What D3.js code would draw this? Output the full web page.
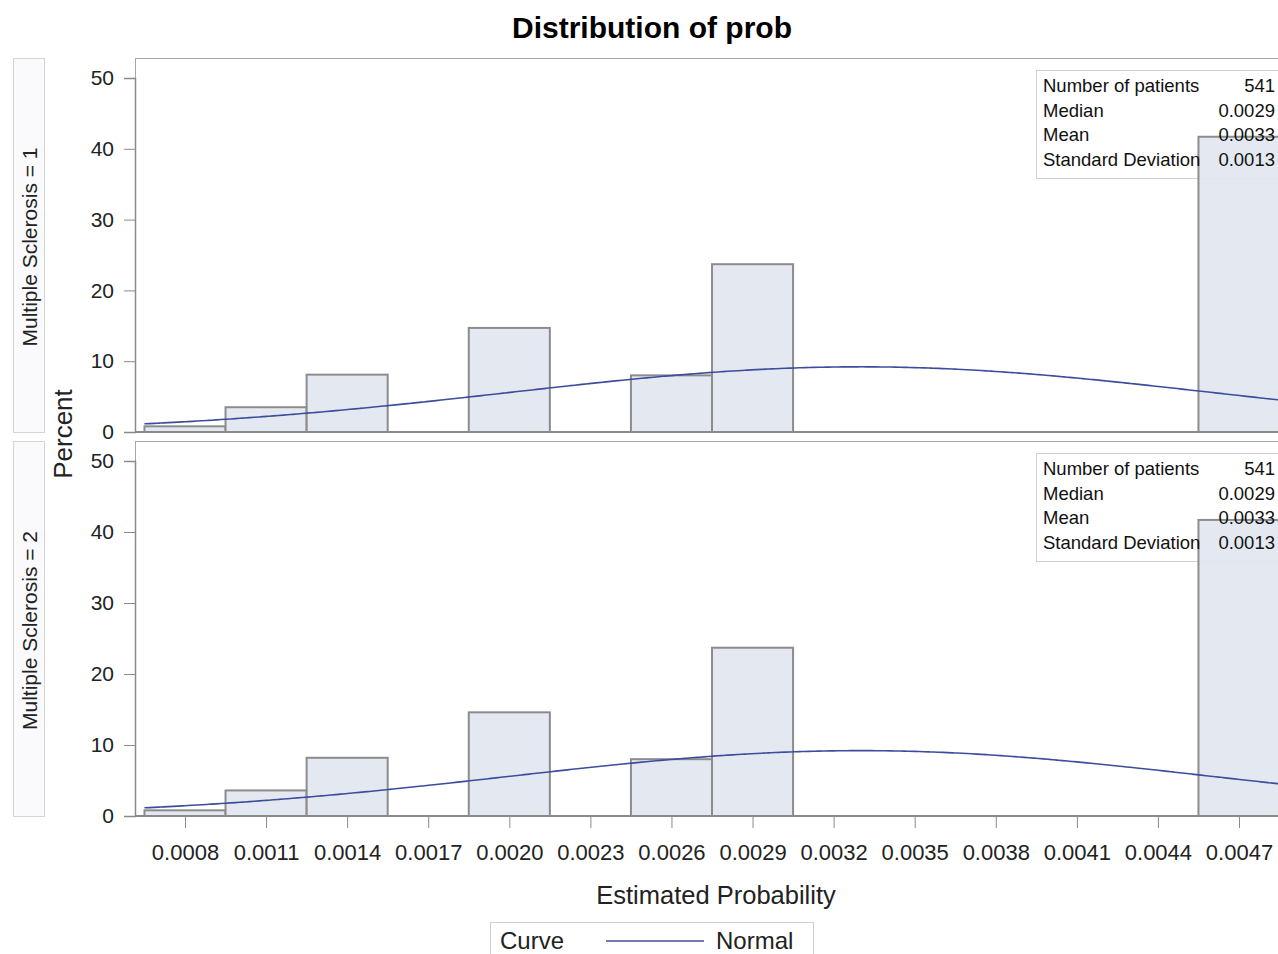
<!DOCTYPE html>
<html>
<head>
<meta charset="utf-8">
<script src="https://cdn.jsdelivr.net/npm/d3@7"></script>
<style>
  html, body { margin: 0; padding: 0; background: #ffffff; }
  svg { display: block; font-family: "Liberation Sans", Arial, sans-serif; }
</style>
</head>
<body>
<svg id="chart" width="1278" height="954"></svg>
<script>
// ---- data ----
const title = "Distribution of prob";
const xLabel = "Estimated Probability";
const yLabel = "Percent";
const binCenters = [0.0008, 0.0011, 0.0014, 0.0017, 0.0020, 0.0023, 0.0026, 0.0029, 0.0032, 0.0035, 0.0038, 0.0041, 0.0044, 0.0047];
const xTickLabels = ["0.0008", "0.0011", "0.0014", "0.0017", "0.0020", "0.0023", "0.0026", "0.0029", "0.0032", "0.0035", "0.0038", "0.0041", "0.0044", "0.0047"];
const binWidth = 0.0003;
const panelNames = ["Multiple Sclerosis = 1", "Multiple Sclerosis = 2"];
const ms1Percent = [0.8, 3.5, 8.1, 0, 14.7, 0, 8.0, 23.7, 0, 0, 0, 0, 0, 41.7];
const ms2Percent = [0.8, 3.6, 8.2, 0, 14.6, 0, 8.0, 23.7, 0, 0, 0, 0, 0, 41.7];
const yTicks = [0, 10, 20, 30, 40, 50];
const insetLabels = ["Number of patients", "Median", "Mean", "Standard Deviation"];
const ms1Inset = ["541", "0.0029", "0.0033", "0.0013"];
const ms2Inset = ["541", "0.0029", "0.0033", "0.0013"];
const ms1Stats = { mean: 0.0033, sd: 0.0013 };
const ms2Stats = { mean: 0.0033, sd: 0.0013 };

// ---- layout ----
const svg = d3.select("#chart");
const plotLeft = 135, plotRight = 1292;
const panels = [
  { name: panelNames[0], values: ms1Percent, inset: ms1Inset, stats: ms1Stats, top: 58, bottom: 432, y50: 78 },
  { name: panelNames[1], values: ms2Percent, inset: ms2Inset, stats: ms2Stats, top: 441, bottom: 816, y50: 461 }
];

const x = d3.scaleLinear().domain([0.0008, 0.0047]).range([185, 1239]);

svg.append("defs").selectAll("clipPath").data(panels).join("clipPath")
  .attr("id", (d, i) => "clip" + i)
  .append("rect")
  .attr("x", plotLeft).attr("y", d => d.top)
  .attr("width", plotRight - plotLeft).attr("height", d => d.bottom - d.top + 2);

// title
svg.append("text").attr("x", 652).attr("y", 38).attr("text-anchor", "middle")
  .attr("font-size", 30).attr("font-weight", "bold").attr("fill", "#000").text(title);

panels.forEach((p, i) => {
  const y = d3.scaleLinear().domain([0, 50]).range([p.bottom, p.y50]);
  const g = svg.append("g");

  // strip label box
  g.append("rect").attr("x", 13.5).attr("y", p.top + 0.5).attr("width", 31).attr("height", p.bottom - p.top)
    .attr("fill", "#fafafc").attr("stroke", "#d4d4d8").attr("stroke-width", 1);
  g.append("text")
    .attr("transform", `translate(37, ${(p.top + p.bottom) / 2 + 2}) rotate(-90)`)
    .attr("text-anchor", "middle").attr("font-size", 21).attr("fill", "#222").text(p.name);

  // panel frame
  g.append("rect").attr("x", plotLeft + 0.5).attr("y", p.top + 0.5)
    .attr("width", plotRight - plotLeft).attr("height", p.bottom - p.top)
    .attr("fill", "none").attr("stroke", "#a8a8a8").attr("stroke-width", 1);

  // inset background
  const insetX = 1036, insetY = p.top + 12, insetH = 108;
  g.append("rect").attr("x", insetX + 0.5).attr("y", insetY + 0.5).attr("width", 260).attr("height", insetH)
    .attr("fill", "#ffffff").attr("stroke", "#d0d0d0").attr("stroke-width", 1);

  // bars
  const clip = g.append("g").attr("clip-path", `url(#clip${i})`);
  clip.selectAll("rect.bar").data(binCenters.map((c, k) => ({ c, v: p.values[k] })))
    .join("rect").attr("class", "bar")
    .attr("x", d => x(d.c - binWidth / 2))
    .attr("width", d => x(d.c + binWidth / 2) - x(d.c - binWidth / 2))
    .attr("y", d => y(d.v))
    .attr("height", d => y(0) - y(d.v))
    .attr("fill", "#e2e7f0").attr("fill-opacity", 0.92)
    .attr("stroke", "#8c8c8c").attr("stroke-width", 2);

  // normal curve (density scaled to percent per bin), starting at the first bin edge
  const xStart = binCenters[0] - binWidth / 2;
  const xEnd = x.invert(plotRight);
  const xs = d3.range(0, 241).map(k => xStart + (xEnd - xStart) * k / 240);
  const pdf = v => 100 * binWidth / (p.stats.sd * Math.sqrt(2 * Math.PI)) * Math.exp(-0.5 * ((v - p.stats.mean) / p.stats.sd) ** 2);
  clip.append("path").datum(xs)
    .attr("d", d3.line().x(v => x(v)).y(v => y(pdf(v))).curve(d3.curveBasis))
    .attr("fill", "none").attr("stroke", "#3c4d9e").attr("stroke-width", 1.6);

  // y axis
  const yAxis = g.append("g").attr("transform", `translate(${plotLeft},0)`)
    .call(d3.axisLeft(y).tickValues(yTicks).tickSize(11).tickPadding(10).tickFormat(d3.format("d")));
  yAxis.select(".domain").attr("stroke", "#8a8a8a").attr("stroke-width", 1.5);
  yAxis.selectAll(".tick line").attr("stroke", "#8a8a8a");
  yAxis.selectAll(".tick text").attr("font-size", 21).attr("fill", "#222").attr("font-family", "Liberation Sans, Arial, sans-serif");

  // baseline
  g.append("line").attr("x1", plotLeft).attr("x2", plotRight).attr("y1", p.bottom).attr("y2", p.bottom)
    .attr("stroke", "#8a8a8a").attr("stroke-width", 2);

  // inset texts
  const rowY = [92, 117, 141, 166].map(v => v - 58 + p.top);
  insetLabels.forEach((lab, k) => {
    g.append("text").attr("x", 1043).attr("y", rowY[k]).attr("font-size", 18.5).attr("fill", "#111").text(lab);
    g.append("text").attr("x", 1275).attr("y", rowY[k]).attr("text-anchor", "end").attr("font-size", 18.5).attr("fill", "#111").text(p.inset[k]);
  });

  // x axis on bottom panel only
  if (i === panels.length - 1) {
    const xAxis = g.append("g").attr("transform", `translate(0,${p.bottom})`)
      .call(d3.axisBottom(x).tickValues(binCenters).tickSize(12).tickPadding(16)
        .tickFormat((d, k) => xTickLabels[k]));
    xAxis.select(".domain").remove();
    xAxis.selectAll(".tick line").attr("stroke", "#8a8a8a");
    xAxis.selectAll(".tick text").attr("font-size", 22).attr("fill", "#222").attr("font-family", "Liberation Sans, Arial, sans-serif");
  }
});

// y label
svg.append("text").attr("transform", "translate(72, 434) rotate(-90)")
  .attr("text-anchor", "middle").attr("font-size", 26).attr("fill", "#222").text(yLabel);

// x label
svg.append("text").attr("x", 716).attr("y", 904).attr("text-anchor", "middle")
  .attr("font-size", 25.5).attr("fill", "#222").text(xLabel);

// legend
const lg = svg.append("g");
lg.append("rect").attr("x", 490.5).attr("y", 922.5).attr("width", 323).attr("height", 40)
  .attr("fill", "#fff").attr("stroke", "#d0d0d0");
lg.append("text").attr("x", 500).attr("y", 949).attr("font-size", 24).attr("fill", "#222").text("Curve");
lg.append("line").attr("x1", 606).attr("x2", 704).attr("y1", 941).attr("y2", 941)
  .attr("stroke", "#3c4d9e").attr("stroke-width", 1.6);
lg.append("text").attr("x", 716).attr("y", 949).attr("font-size", 24).attr("fill", "#222").text("Normal");
</script>
</body>
</html>
